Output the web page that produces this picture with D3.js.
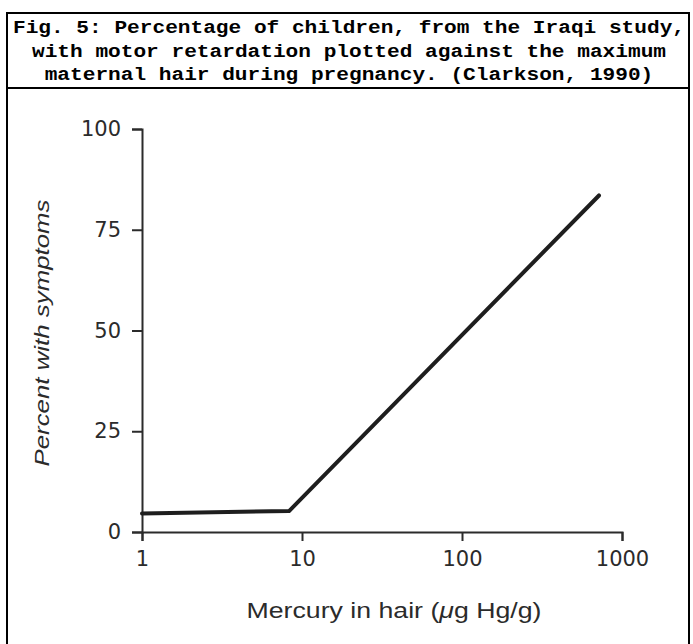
<!DOCTYPE html>
<html>
<head>
<meta charset="utf-8">
<script src="https://cdn.jsdelivr.net/npm/d3@7"></script>
<style>
  body { margin: 0; background: #fff; }
</style>
</head>
<body>
<div id="chart"></div>
<script>
var w = 693;
var h = 644;

// title lines (figure caption)
var titleLines = [
  "Fig. 5: Percentage of children, from the Iraqi study,",
  "with motor retardation plotted against the maximum",
  "maternal hair during pregnancy. (Clarkson, 1990)"
];

// curve: mercury in hair (ug/g) vs percent with symptoms
var mercury = [1, 8.3, 718];
var percent = [4.6, 5.2, 83.5];

var xTicks = [1, 10, 100, 1000];
var yTicks = [0, 25, 50, 75, 100];

var svg = d3.select("#chart").append("svg")
            .attr("width", w)
            .attr("height", h);

// frame round caption + chart
svg.append("path")
   .attr("d", "M7,646 V13 H689 V646")
   .attr("fill", "none")
   .attr("stroke", "#000")
   .attr("stroke-width", 2);
svg.append("line")
   .attr("x1", 7).attr("x2", 689)
   .attr("y1", 88).attr("y2", 88)
   .attr("stroke", "#000")
   .attr("stroke-width", 2);

var charW = 12.68;
svg.selectAll("text.title")
   .data(titleLines)
   .enter()
   .append("text")
   .attr("class", "title")
   .attr("x", 349)
   .attr("y", function(d, i) { return 33 + i * 23.5; })
   .attr("text-anchor", "middle")
   .attr("textLength", function(d) { return d.length * charW; })
   .attr("lengthAdjust", "spacingAndGlyphs")
   .style("font-family", "'Liberation Mono', 'Courier New', monospace")
   .style("font-weight", "bold")
   .style("font-size", "17.5px")
   .text(function(d) { return d; });

var x = d3.scaleLog().domain([1, 1000]).range([142, 622]);
var y = d3.scaleLinear().domain([0, 100]).range([532, 129]);

var ink = "#2b2b2b";

var xAxis = svg.append("g")
   .attr("transform", "translate(0," + y(0) + ")")
   .call(d3.axisBottom(x).tickValues(xTicks).tickFormat(d3.format("d"))
           .tickSize(9).tickPadding(10));

var yAxis = svg.append("g")
   .attr("transform", "translate(" + x(1) + ",0)")
   .call(d3.axisLeft(y).tickValues(yTicks).tickSize(10).tickPadding(11));

[xAxis, yAxis].forEach(function(g) {
  g.selectAll("path, line").attr("stroke", ink).attr("stroke-width", 2);
  g.selectAll("text")
   .attr("fill", ink)
   .style("font-family", "'DejaVu Sans', Arial, sans-serif")
   .style("font-size", "21px");
});
xAxis.selectAll("text").attr("dy", "0.72em");

var line = d3.line()
   .x(function(d) { return x(d[0]); })
   .y(function(d) { return y(d[1]); });

svg.append("path")
   .datum(d3.zip(mercury, percent))
   .attr("d", line)
   .attr("fill", "none")
   .attr("stroke", "#1e1e1e")
   .attr("stroke-width", 4)
   .attr("stroke-linecap", "round")
   .attr("stroke-linejoin", "round");

// axis titles
svg.append("text")
   .attr("transform", "translate(49,333) rotate(-90)")
   .attr("text-anchor", "middle")
   .attr("textLength", 267)
   .attr("lengthAdjust", "spacingAndGlyphs")
   .attr("fill", ink)
   .style("font-family", "'Liberation Sans', Arial, sans-serif")
   .style("font-style", "italic")
   .style("font-size", "21px")
   .text("Percent with symptoms");

var xt = svg.append("text")
   .attr("x", 394)
   .attr("y", 618)
   .attr("text-anchor", "middle")
   .attr("textLength", 295)
   .attr("lengthAdjust", "spacingAndGlyphs")
   .attr("fill", ink)
   .style("font-family", "'Liberation Sans', Arial, sans-serif")
   .style("font-size", "22px");
xt.append("tspan").text("Mercury in hair (");
xt.append("tspan").style("font-style", "italic").text("\u03bc");
xt.append("tspan").text("g Hg/g)");
</script>
</body>
</html>
